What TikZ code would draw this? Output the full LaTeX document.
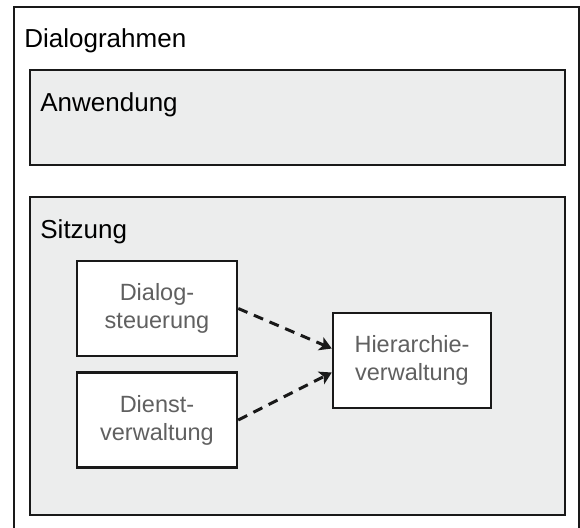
\documentclass[tikz,border=0pt]{standalone}
\usepackage{fontspec}
\setmainfont{Liberation Sans}
\usetikzlibrary{arrows.meta}
\definecolor{paneel}{HTML}{ECEDED}
\definecolor{schrift}{HTML}{606060}
\begin{document}
\begin{tikzpicture}[x=0.5pt,y=-0.5pt]
\tikzstyle{rahmen}=[draw=black!90,line width=1.25pt,inner sep=0pt]
\tikzstyle{titel}=[anchor=base west,inner sep=0pt,font=\fontsize{13}{15.6}\selectfont]
\tikzstyle{modul}=[rahmen,fill=white,minimum width=80pt,minimum height=47.5pt,align=center,text=schrift,font=\fontsize{11.75}{14}\selectfont]
\tikzstyle{bezug}=[black!90,line width=1.5pt,dash pattern=on 5pt off 3.5pt,-{Stealth[length=6pt,width=7pt,inset=1.5pt]}]
\useasboundingbox (0,0) rectangle (580,527);
\clip (0,0) rectangle (580,527);
% rahmen
\node[rahmen,minimum width=282.5pt,minimum height=264pt] (rahmen) at (296.5,271) {};
\node[rahmen,fill=paneel,minimum width=267.5pt,minimum height=47.5pt] (anwendung) at (297.5,117.5) {};
\node[rahmen,fill=paneel,minimum width=267.5pt,minimum height=159pt] (sitzung) at (297.5,356) {};
\node[titel] (trahmen) at (24,47) {Dialograhmen};
\node[titel] (tanwendung) at (40,111) {Anwendung};
\node[titel] (tsitzung) at (40,238) {Sitzung};
% module
\node[modul] (dialog) at (157,308.5) {Dialog-\\steuerung};
\node[modul] (dienst) at (157,420) {Dienst-\\verwaltung};
\node[modul,minimum width=79pt] (hierarchie) at (412,360.5) {Hierarchie-\\verwaltung};
\draw[bezug] (dialog.east) -- ([yshift=6pt]hierarchie.west);
\draw[bezug] (dienst.east) -- ([yshift=-6pt]hierarchie.west);
\end{tikzpicture}
\end{document}
